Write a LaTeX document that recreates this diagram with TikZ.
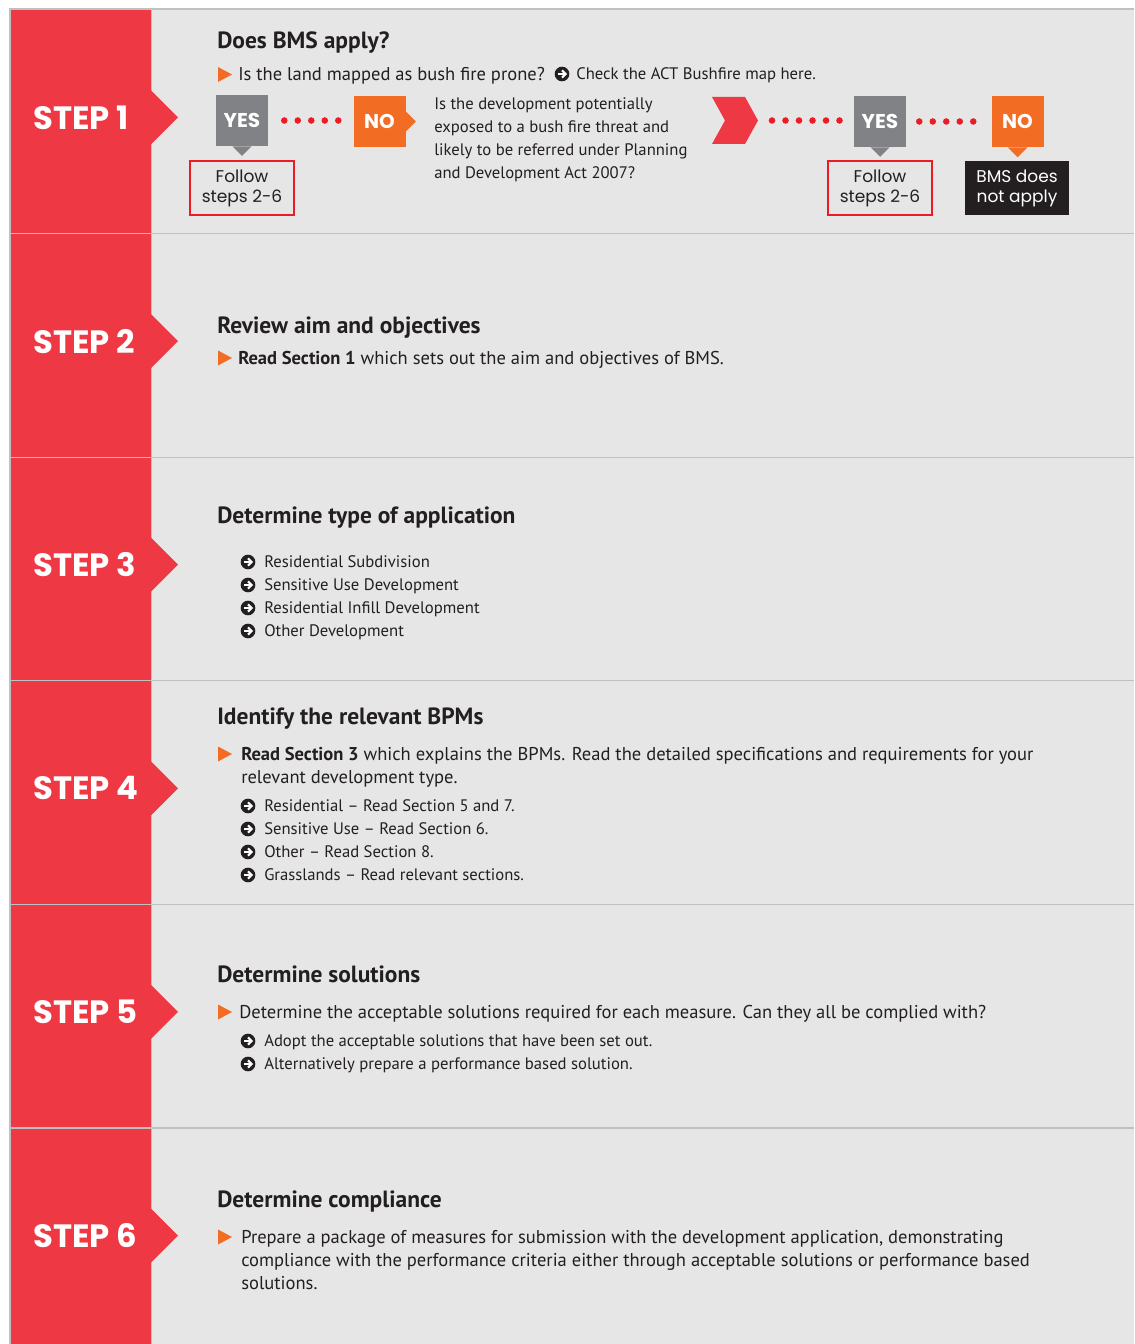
\documentclass[tikz,border=0pt]{standalone}
\usepackage{fontspec}
\setmainfont{PT Sans}
\newfontfamily\stepfont{Poppins}
\usepackage{tikz}
\usetikzlibrary{positioning}
\definecolor{stepred}{RGB}{238,56,67}
\definecolor{dotred}{RGB}{237,28,36}
\definecolor{panelgray}{RGB}{230,230,230}
\definecolor{rulegray}{RGB}{192,192,192}
\definecolor{boxgray}{RGB}{128,130,133}
\definecolor{bmsorange}{RGB}{242,108,36}
\definecolor{inkdark}{RGB}{35,31,32}
\tikzstyle{steplabel} = [anchor=west, inner sep=0, text=white, font=\stepfont\bfseries\fontsize{24.2}{26}\selectfont]
\tikzstyle{heading} = [anchor=base west, inner sep=0, text=inkdark, font=\bfseries\fontsize{17.6}{20}\selectfont]
\tikzstyle{bodytext} = [anchor=base west, inner sep=0, text=inkdark, font=\fontsize{13.9}{17.25}\selectfont]
\tikzstyle{subtext} = [anchor=base west, inner sep=0, text=inkdark, font=\fontsize{12.5}{17.25}\selectfont]
\tikzstyle{answer} = [minimum width=39pt, minimum height=38.25pt, inner sep=0, text=white, font=\stepfont\bfseries\fontsize{15}{16}\selectfont]
\tikzstyle{followbox} = [draw=dotred, line width=1.2pt, minimum width=78pt, minimum height=40.5pt, inner sep=0, align=center, text=inkdark, font=\stepfont\fontsize{12.75}{15}\selectfont]
\tikzstyle{dots} = [dotred, line width=4.9pt, line cap=round, dash pattern=on 0pt off 10.125pt]
\tikzset{
  arrowdot/.pic={
    \fill[inkdark] (0,0) circle[radius=5.5pt];
    \draw[white, line width=1.5pt] (-3.8,0) -- (3,0);
    \draw[white, line width=1.5pt] (0,-3.6) -- (3.6,0) -- (0,3.6);
  },
  tribullet/.pic={\fill[bmsorange] (0,-7.5) -- (14,0) -- (0,7.5) -- cycle;}
}

\begin{document}
\begin{tikzpicture}[x=0.75pt, y=-0.75pt]
\useasboundingbox (0,0) rectangle (1134,1344);
\fill[white] (0,0) rectangle (1134,1344);
\fill[panelgray] (10,9) rectangle (1134,1344);
\draw[rulegray, line width=1.2pt] (10,1344) -- (10,9) -- (1134,9);
\draw[rulegray, line width=0.8pt] (151,9) -- (151,1344);

% step bands
\foreach \i in {1,...,6} {
  \pgfmathsetmacro\rowtop{10+223.6*(\i-1)}
  \pgfmathsetmacro\rowmid{\rowtop+107.5}
  \fill[stepred] (11,\rowtop) rectangle (151,\rowtop+223.6);
  \fill[stepred] (151,\rowmid-27) -- (178,\rowmid) -- (151,\rowmid+27) -- cycle;
  \node[steplabel] (step\i) at (33,\rowmid) {STEP \i};
  \ifnum\i>1 \draw[rulegray, line width=1pt] (10,\rowtop) -- (1134,\rowtop); \fi
}

% step 1
\node[heading] (q1) at (217,49) {Does BMS apply?};
\pic at (218,74.5) {tribullet};
\node[bodytext] (q1a) at (238,81) {Is the land mapped as bush fire prone?};
\pic at (562,74) {arrowdot};
\node[subtext] (q1map) at (576,80) {Check the ACT Bushfire map here.};

\node[answer, fill=boxgray] (yes1) at (242,120.5) {YES};
\fill[boxgray] (yes1.south) ++(-9.5,0) -- ++(9.5,9.5) -- ++(9.5,-9.5) -- cycle;
\node[answer, fill=bmsorange] (no1) at (379.5,121.5) {NO};
\fill[bmsorange] (no1.east) ++(0,-10) -- ++(10,10) -- ++(-10,10) -- cycle;
\node[followbox] (follow1) at (242,188) {Follow\\steps 2-6};
\draw[dots, shorten <=12pt, shorten >=10.5pt] (yes1.east) -- (yes1.east -| no1.west);

\node[subtext, anchor=north west, align=left] (q2) at (434,92.9) {\strut Is the development potentially\\exposed to a bush fire threat and\\likely to be referred under Planning\\and Development Act 2007?};

\fill[stepred] (712,97) -- (745,97) -- (758,120.5) -- (745,144) -- (712,144) -- (725,120.5) -- cycle;
\coordinate (chev) at (758,120.5);
\node[answer, fill=boxgray] (yes2) at (880,121.5) {YES};
\fill[boxgray] (yes2.south) ++(-9.5,0) -- ++(9.5,9.5) -- ++(9.5,-9.5) -- cycle;
\node[answer, fill=bmsorange] (no2) at (1017.5,121.5) {NO};
\fill[bmsorange] (no2.south) ++(-10,0) -- ++(10,10) -- ++(10,-10) -- cycle;
\node[followbox] (follow2) at (880,188) {Follow\\steps 2-6};
\node[followbox, draw=none, fill=inkdark, text=white] (noapply) at (1017,188) {BMS does\\not apply};
\draw[dots, shorten <=10.5pt, shorten >=9.75pt] (chev) -- (chev -| yes2.west);
\draw[dots, shorten <=9.75pt, shorten >=12.75pt] (yes2.east) -- (no2.west);

% step 2
\node[heading] (h2) at (217,333) {Review aim and objectives};
\pic at (218,358) {tribullet};
\node[bodytext] (t2) at (238,364) {\textbf{Read Section 1} which sets out the aim and objectives of BMS.};

% step 3
\node[heading] (h3) at (217,523) {Determine type of application};
\foreach \y/\txt [count=\k] in {562/Residential Subdivision, 585/Sensitive Use Development, 608/Residential Infill Development, 631/Other Development} {
  \pic at (248,\y) {arrowdot};
  \node[subtext] (type\k) at (264,\y+5.5) {\txt};
}

% step 4
\node[heading] (h4) at (217,724) {Identify the relevant BPMs};
\pic at (218,754) {tribullet};
\node[bodytext, anchor=north west, align=left] (t4) at (241,743.9) {\strut\textbf{Read Section 3} which explains the BPMs. Read the detailed specifications and requirements for your\\relevant development type.};
\foreach \y/\txt [count=\k] in {806/Residential -- Read Section 5 and 7., 829/Sensitive Use -- Read Section 6., 852/Other -- Read Section 8., 875/Grasslands -- Read relevant sections.} {
  \pic at (248,\y) {arrowdot};
  \node[subtext] (bpm\k) at (264,\y+5.5) {\txt};
}

% step 5
\node[heading] (h5) at (217,982) {Determine solutions};
\pic at (218,1012) {tribullet};
\node[bodytext] (t5) at (239,1018) {Determine the acceptable solutions required for each measure. Can they all be complied with?};
\foreach \y/\txt [count=\k] in {1041/Adopt the acceptable solutions that have been set out., 1064/Alternatively prepare a performance based solution.} {
  \pic at (248,\y) {arrowdot};
  \node[subtext] (sol\k) at (264,\y+5.5) {\txt};
}

% step 6
\node[heading] (h6) at (217,1207) {Determine compliance};
\pic at (218,1237) {tribullet};
\node[bodytext, anchor=north west, align=left] (t6) at (241,1226.9) {\strut Prepare a package of measures for submission with the development application, demonstrating\\compliance with the performance criteria either through acceptable solutions or performance based\\solutions.};
\end{tikzpicture}
\end{document}
